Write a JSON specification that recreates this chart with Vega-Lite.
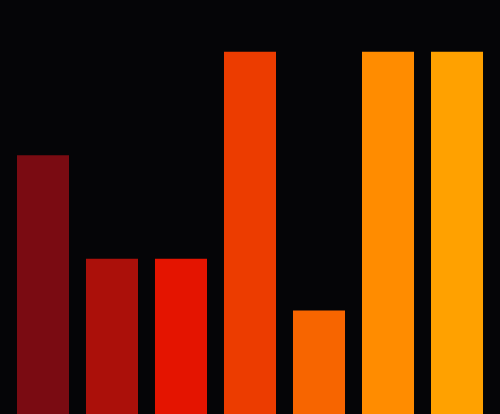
{
  "$schema": "https://vega.github.io/schema/vega-lite/v6.json",
  "autosize": {"type": "fit", "contains": "padding"},
  "width": 500,
  "height": 414,
  "padding": 0,
  "background": "#050507",
  "config": {"view": {"stroke": null}},
  "data": {
    "values": [
      {"cat": "a", "value": 5},
      {"cat": "b", "value": 3},
      {"cat": "c", "value": 3},
      {"cat": "d", "value": 7},
      {"cat": "e", "value": 2},
      {"cat": "f", "value": 7},
      {"cat": "g", "value": 7}
    ]
  },
  "mark": {"type": "bar"},
  "encoding": {
    "x": {"field": "cat", "type": "nominal", "axis": null, "scale": {"paddingInner": 0.246, "paddingOuter": 0.246}},
    "y": {"field": "value", "type": "quantitative", "axis": null, "scale": {"domain": [0, 8], "nice": false}},
    "color": {
      "field": "cat",
      "type": "nominal",
      "legend": null,
      "scale": {"range": ["#7a0b12", "#ab100a", "#e41400", "#ec3c00", "#f76500", "#ff8c00", "#ffa100"]}
    }
  }
}
